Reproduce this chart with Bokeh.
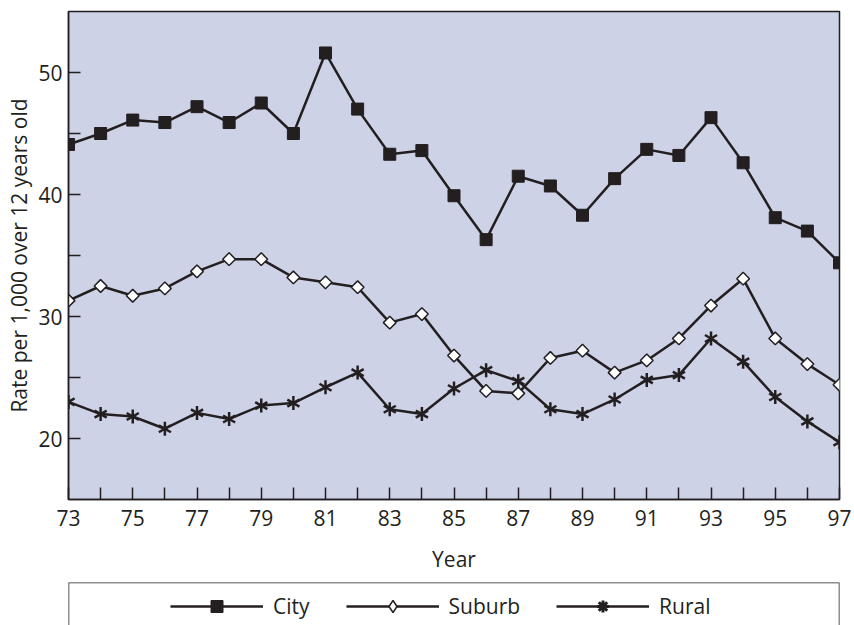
from bokeh.plotting import figure
from bokeh.models import (Range1d, FixedTicker, Legend, LegendItem, Span)
from bokeh.layouts import column
from bokeh.embed import file_html
from bokeh.resources import INLINE
import numpy as np

years = [73, 74, 75, 76, 77, 78, 79, 80, 81, 82, 83, 84, 85, 86, 87, 88, 89,
         90, 91, 92, 93, 94, 95, 96, 97]
city = [44.1, 45.0, 46.1, 45.9, 47.2, 45.9, 47.5, 45.0, 51.6, 47.0, 43.3, 43.6,
        39.9, 36.3, 41.5, 40.7, 38.3, 41.3, 43.7, 43.2, 46.3, 42.6, 38.1, 37.0, 34.4]
suburb = [31.3, 32.5, 31.7, 32.3, 33.7, 34.7, 34.7, 33.2, 32.8, 32.4, 29.5, 30.2,
          26.8, 23.9, 23.7, 26.6, 27.2, 25.4, 26.4, 28.2, 30.9, 33.1, 28.2, 26.1, 24.4]
rural = [23.0, 22.0, 21.8, 20.8, 22.1, 21.6, 22.7, 22.9, 24.2, 25.4, 22.4, 22.0,
         24.1, 25.6, 24.7, 22.4, 22.0, 23.2, 24.8, 25.2, 28.2, 26.3, 23.4, 21.4, 19.7]
x_labeled = [73, 75, 77, 79, 81, 83, 85, 87, 89, 91, 93, 95, 97]
x_minor = [74, 76, 78, 80, 82, 84, 86, 88, 90, 92, 94, 96]
y_labeled = [20, 30, 40, 50]
y_minor = [25, 35, 45]
series_names = ["City", "Suburb", "Rural"]

INK = "#231f20"
FONT = "Open Sans"
FS = "21px"
LW = 2.5

p = figure(width=854, height=575, output_backend="svg", toolbar_location=None,
           x_range=Range1d(73, 97), y_range=Range1d(15, 55),
           min_border_left=68, min_border_right=15, min_border_top=11,
           min_border_bottom=74)
p.background_fill_color = "#cdd2e6"
p.border_fill_color = "white"
p.outline_line_color = INK
p.outline_line_width = 1.5
p.xgrid.visible = False
p.ygrid.visible = False

for ax in (p.xaxis[0], p.yaxis[0]):
    ax.axis_line_color = INK
    ax.axis_line_width = 1.5
    ax.major_tick_line_color = INK
    ax.minor_tick_line_color = INK
    ax.major_tick_line_width = 1.5
    ax.minor_tick_line_width = 1.5
    ax.major_tick_in = 12
    ax.major_tick_out = 0
    ax.minor_tick_in = 12
    ax.minor_tick_out = 0
    ax.major_label_text_font = FONT
    ax.major_label_text_font_size = FS
    ax.major_label_text_color = INK
    ax.axis_label_text_font = FONT
    ax.axis_label_text_font_size = FS
    ax.axis_label_text_font_style = "normal"
    ax.axis_label_text_color = INK

p.xaxis.ticker = FixedTicker(ticks=x_labeled, minor_ticks=x_minor)
p.yaxis.ticker = FixedTicker(ticks=y_labeled, minor_ticks=y_minor)
p.xaxis.axis_label = "Year"
p.yaxis.axis_label = "Rate per 1,000 over 12 years old"
p.xaxis.major_label_standoff = 10
p.xaxis.axis_label_standoff = 16
p.yaxis.major_label_standoff = 6
p.yaxis.axis_label_standoff = 2

p.line(years, city, line_color=INK, line_width=LW)
p.scatter(years, city, marker="square", size=12, fill_color=INK, line_color=INK)
p.line(years, suburb, line_color=INK, line_width=LW)
p.scatter(years, suburb, marker="square", angle=np.pi / 4, size=9,
          fill_color="white", line_color=INK, line_width=1.5)
p.line(years, rural, line_color=INK, line_width=LW)
# six-armed asterisk built from three strokes
for ang in (np.pi / 2, np.pi / 6, -np.pi / 6):
    p.scatter(years, rural, marker="dash", angle=ang, size=14,
              line_color=INK, line_width=2.5)

# legend panel (box spanning the plot width, cut by the page bottom)
leg = figure(width=854, height=50, output_backend="svg", toolbar_location=None,
             x_range=Range1d(0, 1), y_range=Range1d(0, 1),
             x_axis_type=None, y_axis_type=None,
             min_border_left=68, min_border_right=15, min_border_top=7,
             min_border_bottom=0)
leg.outline_line_color = None
leg.xgrid.visible = False
leg.ygrid.visible = False
leg.background_fill_color = "white"
leg.border_fill_color = "white"
leg.add_layout(Span(location=0, dimension="height", line_color=INK, line_width=1.5))
leg.add_layout(Span(location=1, dimension="height", line_color=INK, line_width=1.5))
leg.add_layout(Span(location=1, dimension="width", line_color=INK, line_width=1.5))

nan = [np.nan]
lc = leg.line(nan, nan, line_color=INK, line_width=LW)
sc = leg.scatter(nan, nan, marker="square", fill_color=INK, line_color=INK)
ls = leg.line(nan, nan, line_color=INK, line_width=LW)
ss = leg.scatter(nan, nan, marker="diamond", fill_color="white",
                 line_color=INK, line_width=1.5)
lr = leg.line(nan, nan, line_color=INK, line_width=LW)
sr = leg.scatter(nan, nan, marker="asterisk", line_color=INK, line_width=3)

legend = Legend(items=[LegendItem(label=series_names[0], renderers=[lc, sc]),
                       LegendItem(label=series_names[1], renderers=[ls, ss]),
                       LegendItem(label=series_names[2], renderers=[lr, sr])],
                orientation="horizontal", location=(102, 4),
                glyph_width=93, glyph_height=30, label_standoff=10, spacing=36,
                padding=0, margin=0, border_line_color=None,
                background_fill_alpha=0,
                label_text_font=FONT, label_text_font_size=FS,
                label_text_color=INK)
leg.add_layout(legend, "center")

layout = column(p, leg, spacing=0)
open("out.html", "w").write(file_html(layout, INLINE))
